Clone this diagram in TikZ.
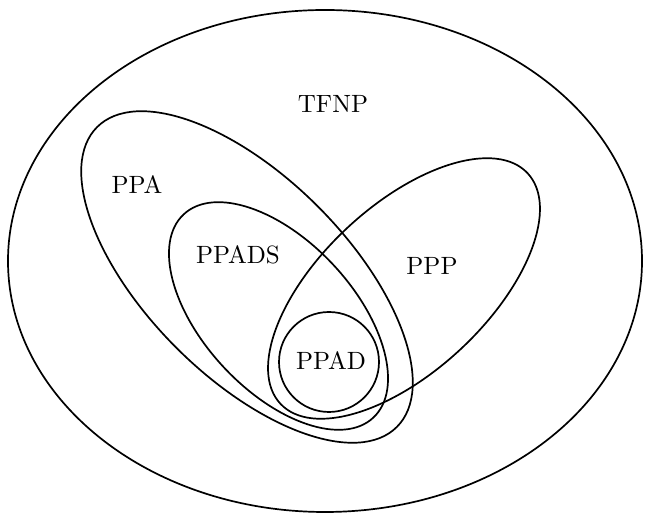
\documentclass[tikz,border=0pt]{standalone}
\begin{document}
\begin{tikzpicture}[x=1pt,y=1pt,
  region/.style={draw=black,line width=1.7pt},
  lbl/.style={font=\fontsize{10}{12}\selectfont,inner sep=0pt,scale=2.5,transform shape}]
\useasboundingbox (0,0) rectangle (649,521);
\draw[region] (325,260) ellipse [x radius=317, y radius=251];
\draw[region] (247,244) ellipse [x radius=212, y radius=100, rotate=-45];
\draw[region] (278.5,205) ellipse [x radius=139, y radius=75, rotate=-47];
\draw[region] (404,232.5) ellipse [x radius=169, y radius=83, rotate=43];
\draw[region] (329,159) circle [radius=50];
\node[lbl] (tfnp) at (333,417) {TFNP};
\node[lbl] (ppa) at (137,336) {PPA};
\node[lbl] (ppads) at (238,266) {PPADS};
\node[lbl] (ppp) at (432,255) {PPP};
\node[lbl] (ppad) at (331,160) {PPAD};
\end{tikzpicture}
\end{document}
